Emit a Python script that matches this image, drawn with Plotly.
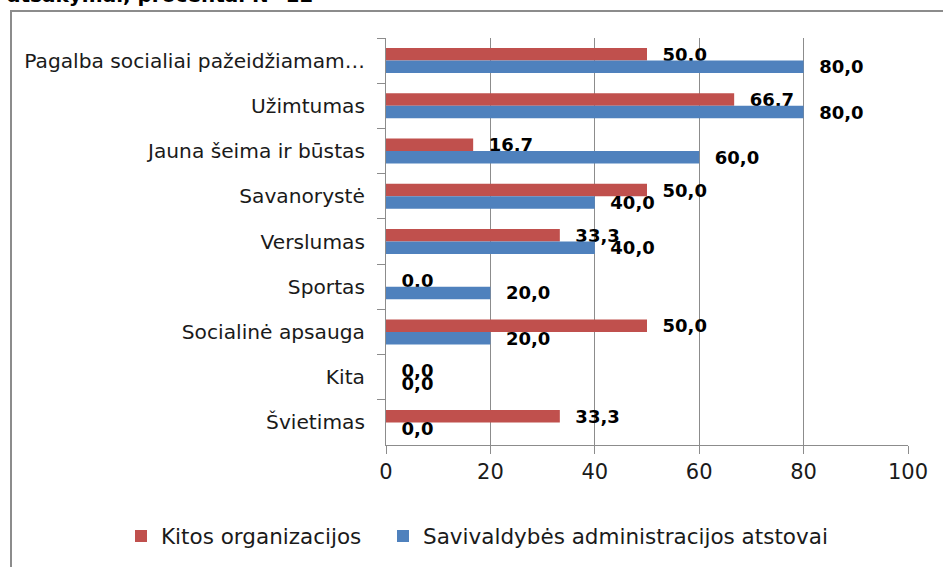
import plotly.graph_objects as go

categories = ["Pagalba socialiai pažeidžiamam…", "Užimtumas", "Jauna šeima ir būstas",
              "Savanorystė", "Verslumas", "Sportas", "Socialinė apsauga", "Kita", "Švietimas"]
kitos = [50.0, 66.7, 16.7, 50.0, 33.3, 0.0, 50.0, 0.0, 33.3]
saviv = [80.0, 80.0, 60.0, 40.0, 40.0, 20.0, 20.0, 0.0, 0.0]
series_names = ["Kitos organizacijos", "Savivaldybės administracijos atstovai"]
x_ticks = [0, 20, 40, 60, 80, 100]
title_text = "atsakymai, procentai N=12"

def fmt(v):
    return "\u00a0\u00a0" + f"{v:.1f}".replace(".", ",")

W, H = 943, 567
L, R, T, B = 386, 35, 38, 122
pw, ph = W - L - R, H - T - B

def px(x):
    return (x - L) / pw

def py(y):
    return (H - B - y) / ph

font_family = "'DejaVu Sans', sans-serif"
label_font = dict(size=18, color="#000000", family=font_family, weight="bold")

fig = go.Figure()
fig.add_trace(go.Bar(
    y=categories, x=kitos, orientation="h", name=series_names[0],
    marker=dict(color="#C0504D", line=dict(width=0)),
    text=[fmt(v) for v in kitos], textposition="outside", cliponaxis=False,
    constraintext="none", textfont=label_font, outsidetextfont=label_font,
    legend="legend",
))
fig.add_trace(go.Bar(
    y=categories, x=saviv, orientation="h", name=series_names[1],
    marker=dict(color="#4F81BD", line=dict(width=0)),
    text=[fmt(v) for v in saviv], textposition="outside", cliponaxis=False,
    constraintext="none", textfont=label_font, outsidetextfont=label_font,
    legend="legend2",
))

legend_common = dict(orientation="h", yanchor="middle", xanchor="left",
                     font=dict(size=21.5, family=font_family, color="#1a1a1a"),
                     bgcolor="rgba(0,0,0,0)")

fig.update_layout(
    width=W, height=H,
    margin=dict(l=L, r=R, t=T, b=B, pad=0, autoexpand=False),
    paper_bgcolor="white", plot_bgcolor="white",
    barmode="group", bargap=0.447, bargroupgap=0,
    font=dict(family=font_family, size=18, color="#1a1a1a"),
    showlegend=True,
    legend=dict(x=px(121), y=py(536), **legend_common),
    legend2=dict(x=px(383), y=py(536), **legend_common),
    xaxis=dict(range=[0, 100], tickvals=x_ticks, ticktext=[str(v) for v in x_ticks],
               showgrid=True, gridcolor="#8c8c8c", gridwidth=1,
               showline=True, linecolor="#8c8c8c", linewidth=1,
               ticks="outside", ticklen=8, tickcolor="#8c8c8c",
               tickfont=dict(size=21, family=font_family, color="#1a1a1a"),
               zeroline=False, fixedrange=True),
    yaxis=dict(autorange="reversed", categoryorder="array", categoryarray=categories,
               showline=True, linecolor="#8c8c8c", linewidth=1,
               ticks="outside", ticklen=8, tickcolor="#8c8c8c", tickson="boundaries",
               ticklabelstandoff=16,
               tickfont=dict(size=20.2, family=font_family, color="#1a1a1a"),
               showgrid=False, fixedrange=True),
    shapes=[dict(type="rect", xref="paper", yref="paper",
                 x0=px(11), x1=px(1000), y0=py(11), y1=py(700),
                 line=dict(color="#8c8c8c", width=2), fillcolor="rgba(0,0,0,0)", layer="below")],
    annotations=[dict(text=title_text, xref="paper", yref="paper", x=px(5), y=py(9),
                      xanchor="left", yanchor="bottom", showarrow=False,
                      font=dict(size=20, family=font_family, color="#000000", weight="bold"))],
)

fig.write_html("out.html", config={"displayModeBar": False},
               post_script="document.body.style.margin='0';document.body.style.overflow='hidden';")
